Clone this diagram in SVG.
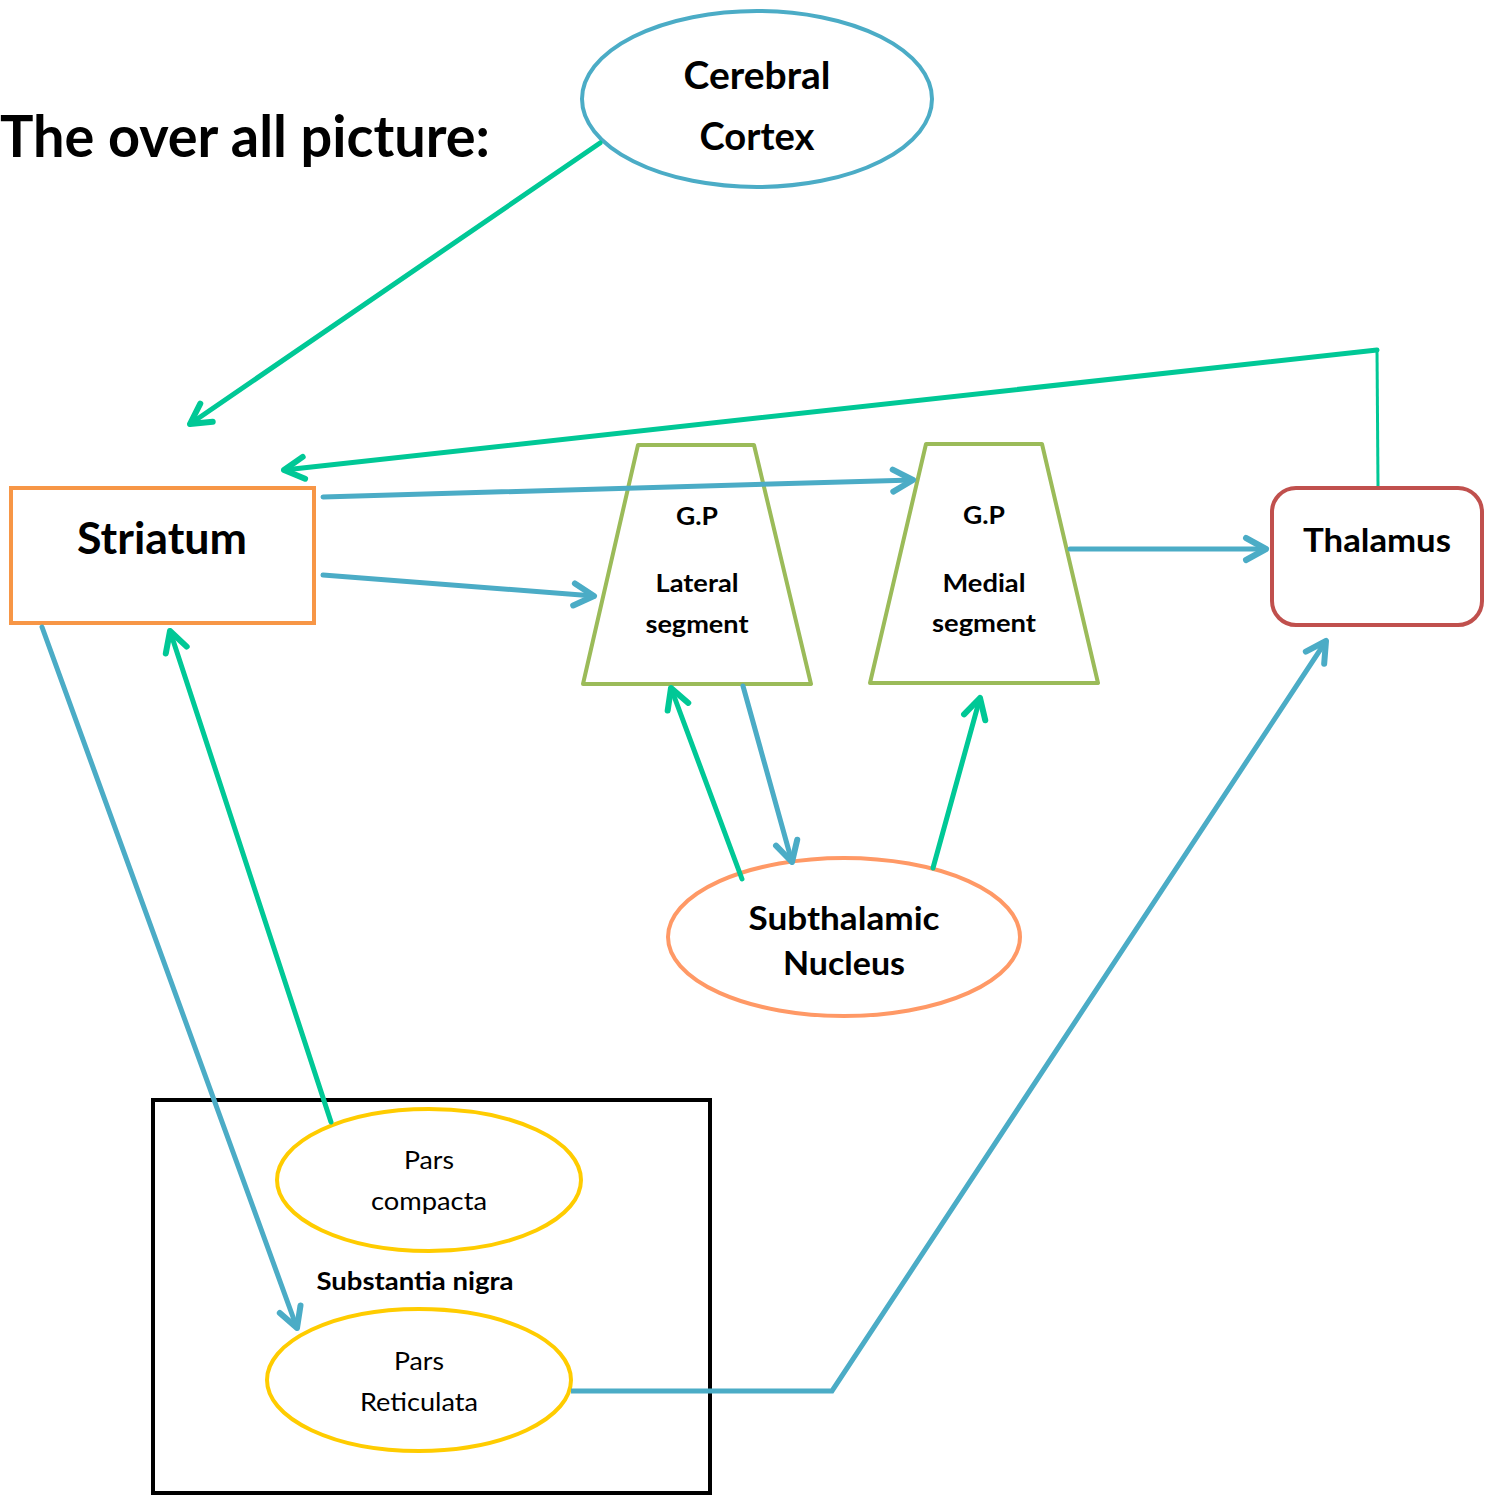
<svg xmlns="http://www.w3.org/2000/svg" width="1499" height="1495" viewBox="0 0 1499 1495">
<defs>
<style>
text{font-family:Lato,"Liberation Sans",sans-serif;fill:#000;text-anchor:middle}
.b{font-weight:bold}
.g{stroke:#00C896;stroke-width:5;fill:none;stroke-linecap:round;stroke-linejoin:round}
.u{stroke:#4BACC6;stroke-width:5;fill:none;stroke-linecap:round;stroke-linejoin:round}
.ga{marker-end:url(#mg)}
.ua{marker-end:url(#mu)}
</style>
<marker id="mg" markerUnits="userSpaceOnUse" viewBox="-30 -20 40 40" markerWidth="40" markerHeight="40" refX="0" refY="0" orient="auto">
<path d="M-20,-11 L0,0 L-20,11" fill="none" stroke="#00C896" stroke-width="6" stroke-linecap="round" stroke-linejoin="round"/>
</marker>
<marker id="mu" markerUnits="userSpaceOnUse" viewBox="-30 -20 40 40" markerWidth="40" markerHeight="40" refX="0" refY="0" orient="auto">
<path d="M-20,-11 L0,0 L-20,11" fill="none" stroke="#4BACC6" stroke-width="6" stroke-linecap="round" stroke-linejoin="round"/>
</marker>
</defs>
<rect width="1499" height="1495" fill="#fff"/>
<text class="b" x="0" y="157" font-size="58" textLength="490" lengthAdjust="spacingAndGlyphs" style="text-anchor:start">The over all picture:</text>

<g id="cortex">
<ellipse cx="757" cy="99" rx="175" ry="88" fill="#fff" stroke="#4BACC6" stroke-width="4"/>
<text class="b" x="757" y="89" font-size="38" textLength="147" lengthAdjust="spacingAndGlyphs">Cerebral</text>
<text class="b" x="757" y="150" font-size="38" textLength="115" lengthAdjust="spacingAndGlyphs">Cortex</text>
</g>

<g id="striatum">
<rect x="11" y="488" width="303" height="135" fill="#fff" stroke="#F79646" stroke-width="4"/>
<text class="b" x="162" y="554" font-size="44" textLength="170" lengthAdjust="spacingAndGlyphs">Striatum</text>
</g>

<g id="gp-lateral">
<polygon points="638,445 754,445 811,684 583,684" fill="#fff" stroke="#9BBB59" stroke-width="4" stroke-linejoin="round"/>
<text class="b" x="697" y="525" font-size="25" textLength="42" lengthAdjust="spacingAndGlyphs">G.P</text>
<text class="b" x="697" y="592" font-size="25" textLength="83" lengthAdjust="spacingAndGlyphs">Lateral</text>
<text class="b" x="697" y="633" font-size="25" textLength="103" lengthAdjust="spacingAndGlyphs">segment</text>
</g>

<g id="gp-medial">
<polygon points="926,444 1042,444 1098,683 870,683" fill="#fff" stroke="#9BBB59" stroke-width="4" stroke-linejoin="round"/>
<text class="b" x="984" y="524" font-size="25" textLength="42" lengthAdjust="spacingAndGlyphs">G.P</text>
<text class="b" x="984" y="592" font-size="25" textLength="83" lengthAdjust="spacingAndGlyphs">Medial</text>
<text class="b" x="984" y="632" font-size="25" textLength="104" lengthAdjust="spacingAndGlyphs">segment</text>
</g>

<g id="thalamus">
<rect x="1272" y="488" width="210" height="137" rx="24" fill="#fff" stroke="#C0504D" stroke-width="4"/>
<text class="b" x="1377" y="552" font-size="33" textLength="148" lengthAdjust="spacingAndGlyphs">Thalamus</text>
</g>

<g id="subthalamic">
<ellipse cx="844" cy="937" rx="176" ry="79" fill="#fff" stroke="#FF9966" stroke-width="4"/>
<text class="b" x="844" y="930" font-size="33" textLength="191" lengthAdjust="spacingAndGlyphs">Subthalamic</text>
<text class="b" x="844" y="975" font-size="33" textLength="122" lengthAdjust="spacingAndGlyphs">Nucleus</text>
</g>

<g id="substantia-nigra">
<rect x="153" y="1100" width="557" height="393" fill="none" stroke="#000" stroke-width="4"/>
<text class="b" x="415" y="1290" font-size="25" textLength="197" lengthAdjust="spacingAndGlyphs">Substantia nigra</text>
</g>

<g id="pars-compacta">
<ellipse cx="429" cy="1180" rx="152" ry="71" fill="#fff" stroke="#FFCC00" stroke-width="4"/>
<text x="429" y="1169" font-size="25" textLength="50" lengthAdjust="spacingAndGlyphs">Pars</text>
<text x="429" y="1210" font-size="25" textLength="116" lengthAdjust="spacingAndGlyphs">compacta</text>
</g>

<g id="pars-reticulata">
<ellipse cx="419" cy="1380" rx="152" ry="71" fill="#fff" stroke="#FFCC00" stroke-width="4"/>
<text x="419" y="1370" font-size="25" textLength="50" lengthAdjust="spacingAndGlyphs">Pars</text>
<text x="419" y="1411" font-size="25" textLength="118" lengthAdjust="spacingAndGlyphs">Reticulata</text>
</g>

<g id="connectors">
<path class="g ga" d="M600,143 L190,424"/>
<path d="M1378,486 L1377,350" stroke="#00C896" stroke-width="3" fill="none"/>
<path class="g ga" d="M1377,350 L284,470"/>
<path class="u ua" d="M323,497 L913,480"/>
<path class="u ua" d="M323,575 L594,596"/>
<path class="u ua" d="M1070,549 L1266,549"/>
<path class="g ga" d="M742,879 L671,688"/>
<path class="u ua" d="M743,686 L792,862"/>
<path class="g ga" d="M933,868 L980,698"/>
<path class="u ua" d="M42,627 L297,1328"/>
<path class="g ga" d="M331,1122 L170,631"/>
<path class="u ua" d="M571,1391 L832,1391 L1326,641" style="stroke-linejoin:miter;stroke-linecap:butt"/>
</g>
</svg>
